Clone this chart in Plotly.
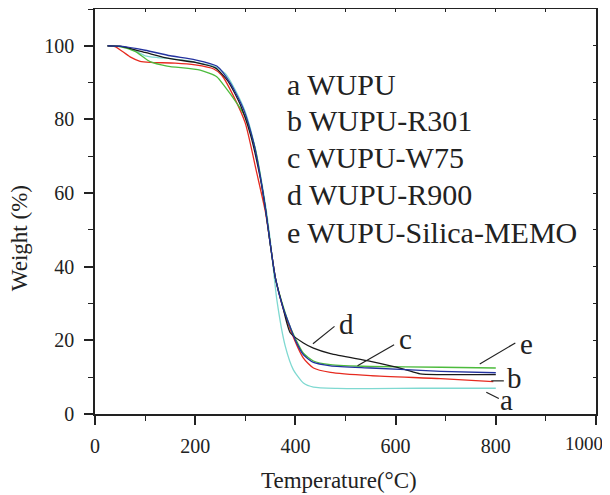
import plotly.graph_objects as go

# ---- data ----
a_x = [25, 50, 75, 100, 125, 150, 200, 240, 260, 280, 300, 320, 340, 350, 363, 380, 396, 416, 436, 483, 550, 650, 800]
a_y = [100, 99.8, 99.0, 97.3, 96.8, 96.5, 95.6, 94.3, 92.5, 88.0, 82.0, 72.0, 57.0, 47.0, 31.0, 18.3, 12.0, 8.4, 7.3, 6.95, 6.9, 7.0, 7.0]

b_x = [25, 40, 70, 90, 110, 160, 200, 237, 253, 277, 300, 323, 340, 350, 360, 375, 390, 416, 436, 470, 550, 690, 795]
b_y = [100, 99.8, 97.0, 95.8, 95.5, 95.3, 94.8, 93.7, 92.0, 86.2, 79.0, 65.4, 55.0, 46.0, 37.0, 29.0, 22.9, 15.2, 12.5, 11.3, 10.4, 9.6, 8.8]

c_x = [25, 50, 100, 150, 200, 243, 270, 297, 317, 330, 340, 350, 360, 375, 390, 400, 416, 436, 470, 550, 690, 800]
c_y = [100, 99.9, 98.8, 97.3, 96.2, 94.5, 89.9, 82.6, 73.5, 64.5, 56.0, 46.0, 37.0, 29.0, 23.5, 20.0, 16.1, 14.0, 13.1, 12.5, 11.6, 11.2]

d_x = [25, 50, 100, 150, 200, 240, 265, 290, 310, 330, 340, 350, 360, 375, 390, 416, 436, 470, 550, 616, 649, 689, 800]
d_y = [100, 99.9, 98.2, 96.5, 95.5, 94.0, 90.5, 84.0, 76.0, 64.0, 56.0, 46.0, 37.0, 29.0, 22.0, 19.3, 17.9, 16.4, 14.3, 12.2, 10.9, 10.7, 10.7]

e_x = [25, 50, 80, 110, 144, 210, 243, 257, 283, 300, 320, 340, 350, 360, 375, 390, 416, 436, 470, 550, 690, 800]
e_y = [100, 99.8, 98.5, 95.7, 94.5, 93.4, 91.6, 89.3, 84.4, 80.7, 72.0, 56.0, 46.0, 37.0, 29.5, 23.5, 16.5, 14.4, 13.4, 12.9, 12.7, 12.5]

x_tickvals = [0, 200, 400, 600, 800, 1000]
x_ticktext = ["0", "200", "400", "600", "800", ""]   # last label is placed separately (it sits against the edge)
x_last_label = "1000"

legend_lines = ["a WUPU", "b WUPU-R301", "c WUPU-W75", "d WUPU-R900", "e WUPU-Silica-MEMO"]
legend_y = [89.6, 79.6, 69.6, 59.5, 49.2]
legend_x = 380

label_text = ["d", "c", "e", "b", "a"]
label_x = [501, 619, 862, 837, 822]
label_y = [24.4, 20.4, 19.1, 9.8, 3.9]
leader_x0 = [435, 524, 768, 791, 781]
leader_y0 = [19.1, 13.1, 13.6, 9.0, 5.9]
leader_x1 = [478, 597, 839, 816, 806]
leader_y1 = [23.8, 18.8, 19.3, 9.0, 4.2]

series = [
    (a_x, a_y, "#7fd9d1"),
    (b_x, b_y, "#e62a1f"),
    (e_x, e_y, "#4cbb3c"),
    (d_x, d_y, "#1a1a1a"),
    (c_x, c_y, "#23329f"),
]

FONT = "Liberation Serif"
INK = "#222222"

# page body has an 8px margin: the figure is drawn 8px in from the window corner
OFF = 8
W, H = 610 - OFF, 495 - OFF
# plot-area edges in window pixels (from the reference)
PL, PR, PT, PB = 94.7, 595.7, 9.0, 414.3
L, R, T, B = PL - OFF, (610 - PR), PT - OFF, (495 - PB)


def paper(px, py):
    return (px - PL) / (PR - PL), (PB - py) / (PB - PT)


fig = go.Figure()
for xs, ys, col in series:
    fig.add_trace(go.Scatter(x=xs, y=ys, mode="lines",
                             line=dict(color=col, width=1.3, shape="spline", smoothing=0.6),
                             showlegend=False, hoverinfo="skip"))

# invisible trace for the mirrored (top/right) axes
fig.add_trace(go.Scatter(x=[None], y=[None], xaxis="x2", yaxis="y2", showlegend=False))

for t, yy in zip(legend_lines, legend_y):
    fig.add_annotation(x=legend_x, y=yy, xref="x", yref="y", text=t, showarrow=False,
                       xanchor="left", yanchor="middle", font=dict(family=FONT, size=30, color=INK))

for t, xx, yy in zip(label_text, label_x, label_y):
    fig.add_annotation(x=xx, y=yy, xref="x", yref="y", text=t, showarrow=False,
                       xanchor="center", yanchor="middle", font=dict(family=FONT, size=29, color=INK))

for x0, y0, x1, y1 in zip(leader_x0, leader_y0, leader_x1, leader_y1):
    fig.add_shape(type="line", xref="x", yref="y", x0=x0, y0=y0, x1=x1, y1=y1,
                  line=dict(color=INK, width=1.2))

# axis titles and the edge tick label (positions in window pixels of the reference)
tx, ty = paper(338.5, 481)
fig.add_annotation(x=tx, y=ty, xref="paper", yref="paper", text="Temperature(°C)", showarrow=False,
                   xanchor="center", yanchor="middle", font=dict(family=FONT, size=23, color=INK))
wx, wy = paper(20, 238)
fig.add_annotation(x=wx, y=wy, xref="paper", yref="paper", text="Weight (%)", showarrow=False,
                   xanchor="center", yanchor="middle", textangle=-90,
                   font=dict(family=FONT, size=23, color=INK))
lx, ly = paper(604, 444)
fig.add_annotation(x=lx, y=ly, xref="paper", yref="paper", text=x_last_label, showarrow=False,
                   xanchor="right", yanchor="middle", borderpad=0,
                   font=dict(family=FONT, size=19, color=INK))

axis_common = dict(showgrid=False, zeroline=False, showline=True, linecolor=INK, linewidth=1.6,
                   tickfont=dict(family=FONT, size=20, color=INK), tickcolor=INK, tickwidth=1.6)

fig.update_layout(
    width=W, height=H,
    margin=dict(l=L, r=R, t=T, b=B, pad=0, autoexpand=False),
    paper_bgcolor="white", plot_bgcolor="white",
    xaxis=dict(range=[0, 1000], tickmode="array", tickvals=x_tickvals, ticktext=x_ticktext,
               ticks="outside", ticklen=9,
               ticklabelstandoff=4, automargin=False,
               minor=dict(dtick=100, ticks="outside", ticklen=5, tickcolor=INK, tickwidth=1.4),
               **axis_common),
    yaxis=dict(range=[0, 110], tick0=0, dtick=20, ticks="outside", ticklen=9,
               ticklabelstandoff=6, automargin=False, ticklabeloverflow="allow",
               minor=dict(dtick=10, ticks="outside", ticklen=5, tickcolor=INK, tickwidth=1.4),
               **axis_common),
    xaxis2=dict(range=[0, 1000], overlaying="x", side="top", showgrid=False, zeroline=False,
                showline=True, linecolor=INK, linewidth=1.6, showticklabels=False,
                tick0=0, dtick=100, ticks="inside", ticklen=3, tickcolor=INK, tickwidth=1.4),
    yaxis2=dict(range=[0, 110], overlaying="y", side="right", showgrid=False, zeroline=False,
                showline=True, linecolor=INK, linewidth=1.6, showticklabels=False,
                tick0=0, dtick=10, ticks="inside", ticklen=3, tickcolor=INK, tickwidth=1.4),
    font=dict(family=FONT, color=INK),
)

fig.write_html("out.html")
